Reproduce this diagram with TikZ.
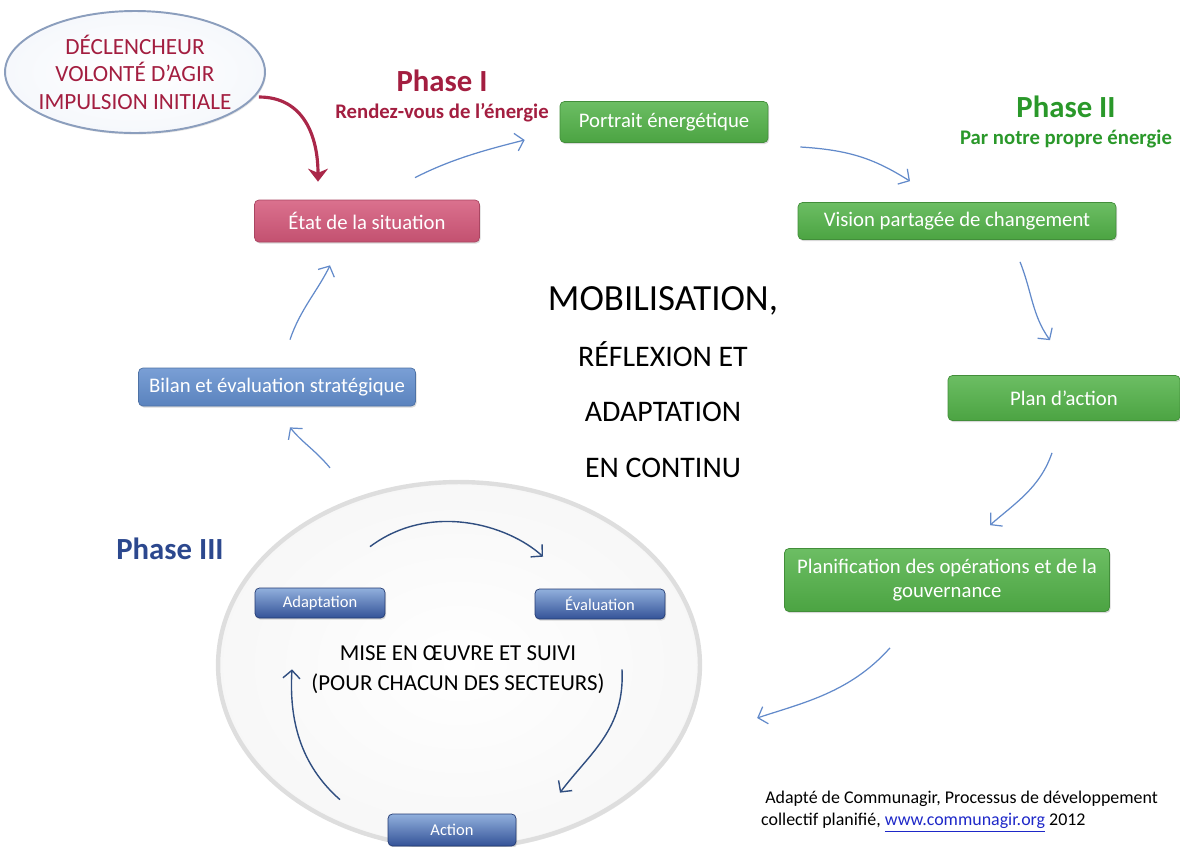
\documentclass[tikz,border=0pt]{standalone}
\usepackage{fontspec}
\setmainfont{Carlito}
\usetikzlibrary{arrows.meta,calc,shapes.geometric,shadows}
\definecolor{crimson}{RGB}{163,30,64}
\definecolor{pinkbox}{RGB}{212,88,122}
\definecolor{greenbox}{RGB}{82,178,72}
\definecolor{greentxt}{RGB}{42,152,42}
\definecolor{bluebox}{RGB}{98,142,206}
\definecolor{navytxt}{RGB}{44,72,142}
\definecolor{arrowblue}{RGB}{98,138,202}
\definecolor{navyarrow}{RGB}{48,78,128}
\definecolor{linkblue}{RGB}{30,40,200}

\begin{document}
\begin{tikzpicture}[
  x=0.02cm, y=-0.02cm,
  box/.style={rounded corners=2.5pt, text=white, align=center,
    font=\fontsize{11.8}{14}\selectfont, inner sep=2pt,
    drop shadow={opacity=0.3, shadow xshift=0.6pt, shadow yshift=-0.9pt}},
  gbox/.style={box, top color=greenbox!85!white, bottom color=greenbox!92!black, draw=greenbox!80!black},
  pbox/.style={box, top color=pinkbox!85!white, bottom color=pinkbox!92!black, draw=pinkbox!80!black},
  bbox/.style={box, top color=bluebox!85!white, bottom color=bluebox!92!black, draw=bluebox!80!black},
  sbox/.style={box, font=\fontsize{9.4}{11}\selectfont, top color=bluebox!70!white,
    bottom color=navytxt!85!bluebox, draw=navytxt!80!black,
    minimum width=2.6cm, minimum height=0.6cm},
  phase/.style={align=center, font=\bfseries\fontsize{11.8}{15.5}\selectfont},
  flow/.style={-{Straight Barb[length=1.6mm, width=3.6mm]}, draw=arrowblue, line width=0.7pt},
  inflow/.style={-{Straight Barb[length=1.6mm, width=3.4mm]}, draw=navyarrow, line width=0.8pt},
  trigarrow/.style={-{Stealth[length=2.6mm, width=4mm]}, draw=crimson!85!pinkbox, line width=1.8pt}
]
\path[use as bounding box] (0,0) rectangle (1180,846);

\node[ellipse, draw=arrowblue!60!gray!80, line width=1.1pt, inner color=white, outer color=arrowblue!6,
  minimum width=5.2cm, minimum height=2.44cm, inner xsep=-4pt, inner ysep=0pt, align=center,
  text=crimson, font=\fontsize{13.2}{15.6}\selectfont,
  drop shadow={opacity=0.2, shadow xshift=0.6pt, shadow yshift=-0.9pt}] (trig) at (135,72)
  {DÉCLENCHEUR\\VOLONTÉ D’AGIR\\IMPULSION INITIALE};

\node[phase, text=crimson] (ph1) at (442,96)
  {{\fontsize{17.5}{15.5}\selectfont Phase I}\\Rendez-vous de l’énergie};
\node[phase, text=greentxt] (ph2) at (1066,122)
  {{\fontsize{17.5}{15.5}\selectfont Phase II}\\Par notre propre énergie};
\node[phase, text=navytxt, font=\bfseries\fontsize{17.5}{20}\selectfont] (ph3) at (170,549) {Phase III};

\node[pbox, minimum width=4.5cm, minimum height=0.84cm] (etat) at (367,221) {État de la situation};
\node[gbox, minimum width=4.16cm, minimum height=0.82cm] (portrait) at (664,122) {Portrait énergétique};
\node[gbox, minimum width=6.36cm, minimum height=0.74cm] (vision) at (957,221) {Vision partagée de changement};
\node[gbox, minimum width=4.64cm, minimum height=0.9cm] (plan) at (1064,398) {Plan d’action};
\node[gbox, minimum width=6.5cm, minimum height=1.26cm] (planif) at (947,580)
  {Planification des opérations et de la\\gouvernance};
\node[bbox, minimum width=5.54cm, minimum height=0.76cm] (bilan) at (277,387) {Bilan et évaluation stratégique};

\node[align=center, font=\fontsize{17}{31.7}\selectfont] (mobil) at (663,382)
  {{\fontsize{21}{31.7}\selectfont MOBILISATION,}\\RÉFLEXION ET\\ADAPTATION\\EN CONTINU};

\node[ellipse, draw=black!13, line width=2.5pt, inner color=white, outer color=black!3,
  minimum width=9.64cm, minimum height=7.32cm,
  drop shadow={opacity=0.15, shadow xshift=0.8pt, shadow yshift=-1.2pt}] (cycle) at (459,665) {};

\node[sbox] (adapt) at (320,603) {Adaptation};
\node[sbox] (evalu) at (600,604) {Évaluation};
\node[sbox, minimum width=2.56cm, minimum height=0.64cm] (action) at (452,830) {Action};

\node[align=center, font=\fontsize{13}{17}\selectfont] (mise) at (458,670)
  {MISE EN ŒUVRE ET SUIVI\\(POUR CHACUN DES SECTEURS)};

\node[anchor=west, align=left, font=\fontsize{10.2}{12.5}\selectfont] (src) at (755,812)
  {\ Adapté de Communagir, Processus de développement\\
   collectif planifié, \textcolor{linkblue}{\underline{www.communagir.org}} 2012};

\draw[trigarrow] ($(trig.east)+(-7,25)$) .. controls +(45,0) and +(0,-45) .. ($(etat.north)+(-49,-18)$);

\draw[flow] ($(etat.north)+(48,-22)$) .. controls +(35,-18) and +(-40,10) .. ($(portrait.west)+(-35,18)$);
\draw[flow] ($(portrait.east)+(32,25)$) .. controls +(50,3) and +(-35,-22) .. ($(vision.north)+(-47,-21)$);
\draw[flow] ($(vision.south)+(63,22)$) .. controls +(12,30) and +(-18,-25) .. ($(plan.north)+(-14,-35)$);
\draw[flow] ($(plan.south)+(-12,32)$) .. controls +(-12,35) and +(25,-22) .. ($(planif.north)+(43,-23)$);
\draw[flow] ($(planif.south)+(-57,36)$) .. controls +(-40,45) and +(45,-15) .. ($(cycle.east)+(55,53)$);
\draw[flow] ($(cycle.north)+(-129,-12)$) .. controls +(-15,-18) and +(12,15) .. ($(bilan.south)+(13,21)$);
\draw[flow] ($(bilan.north)+(13,-28)$) .. controls +(10,-30) and +(-12,25) .. ($(etat.south)+(-37,23)$);

\draw[inflow] ($(adapt.north)+(50,-41)$) .. controls +(60,-45) and +(-35,-32) .. ($(evalu.north)+(-57,-32)$);
\draw[inflow] ($(evalu.south)+(22,50)$) .. controls +(3,60) and +(30,-40) .. ($(action.north)+(108,-21)$);
\draw[inflow] ($(action.north)+(-112,-14)$) .. controls +(-40,-35) and +(-3,50) .. ($(adapt.south)+(-28,51)$);
\end{tikzpicture}
\end{document}
